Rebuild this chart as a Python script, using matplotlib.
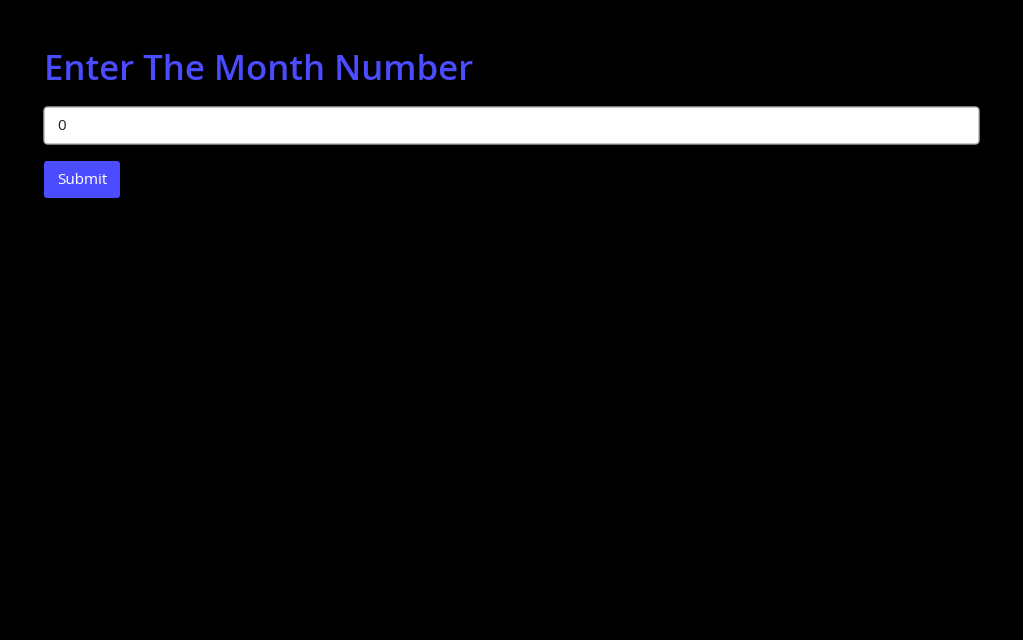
import matplotlib
matplotlib.use("Agg")
import matplotlib.pyplot as plt
from matplotlib.patches import FancyBboxPatch

title_text = "Enter The Month Number"
input_value = "0"
button_label = "Submit"

ACCENT = "#4b4bff"

plt.rcParams["font.family"] = ["Open Sans", "DejaVu Sans"]

fig = plt.figure(figsize=(10.23, 6.4), dpi=100)
fig.patch.set_facecolor("black")
ax = fig.add_axes([0, 0, 1, 1])
ax.set_xlim(0, 1023)
ax.set_ylim(640, 0)
ax.axis("off")
ax.set_facecolor("black")

ax.text(44, 71, title_text, color=ACCENT, fontsize=25, fontweight="semibold",
        va="center", ha="left")

ax.add_patch(FancyBboxPatch((44, 107), 935, 37, boxstyle="round,pad=0,rounding_size=4",
                            facecolor="white", edgecolor="#b0b0b0", linewidth=1))
ax.text(57, 126, input_value, color="#222222", fontsize=11, va="center", ha="left")

ax.add_patch(FancyBboxPatch((44, 161), 76, 37, boxstyle="round,pad=0,rounding_size=3",
                            facecolor=ACCENT, edgecolor="none"))
ax.text(82, 180, button_label, color="white", fontsize=11, va="center", ha="center")

fig.savefig("out.png", dpi=100, facecolor="black")
